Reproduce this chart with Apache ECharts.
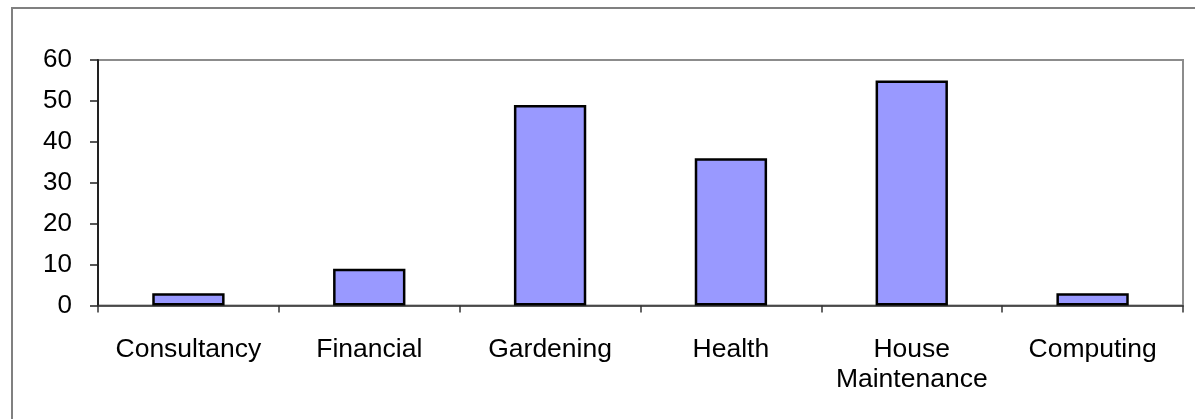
<!DOCTYPE html>
<html>
<head>
<meta charset="utf-8">
<script src="https://cdn.jsdelivr.net/npm/echarts@6/dist/echarts.min.js"></script>
<style>
html,body{margin:0;padding:0;background:#fff;}
#chart{width:1195px;height:419px;}
</style>
</head>
<body>
<div id="chart"></div>
<script>
const categories = ['Consultancy', 'Financial', 'Gardening', 'Health', 'House\nMaintenance', 'Computing'];
const values = [3, 9, 49, 36, 55, 3];
const yMin = 0, yMax = 60, yStep = 10;

const chart = echarts.init(document.getElementById('chart'), null, {renderer: 'canvas'});
chart.setOption({
  animation: false,
  backgroundColor: '#ffffff',
  textStyle: {fontFamily: '"Liberation Sans", Arial, sans-serif'},
  graphic: [{
    type: 'rect',
    shape: {x: 12, y: 8, width: 1300, height: 500},
    style: {fill: 'none', stroke: '#808080', lineWidth: 2},
    silent: true
  }],
  grid: {
    left: 98, top: 60, right: 12, bottom: 113.5,
    show: true, borderColor: '#8c8c8c', borderWidth: 2, containLabel: false
  },
  xAxis: {
    type: 'category',
    data: categories,
    axisLine: {show: true, lineStyle: {color: '#333', width: 1.5}},
    axisTick: {show: true, alignWithLabel: false, length: 7, lineStyle: {color: '#333', width: 1.5}},
    axisLabel: {color: '#000', fontSize: 26.5, margin: 29, lineHeight: 30, interval: 0,
      fontFamily: '"Liberation Sans", Arial, sans-serif'},
    splitLine: {show: false}
  },
  yAxis: {
    type: 'value',
    min: yMin, max: yMax, interval: yStep,
    axisLine: {show: true, lineStyle: {color: '#222', width: 2}},
    axisTick: {show: true, inside: false, length: 8, lineStyle: {color: '#222', width: 1.5}},
    axisLabel: {color: '#000', fontSize: 26, margin: 26,
      fontFamily: '"Liberation Sans", Arial, sans-serif'},
    splitLine: {show: false}
  },
  series: [{
    type: 'bar',
    data: values,
    barWidth: '40%',
    itemStyle: {color: '#9999ff', borderColor: '#000', borderWidth: 2.5}
  }]
});
</script>
</body>
</html>
